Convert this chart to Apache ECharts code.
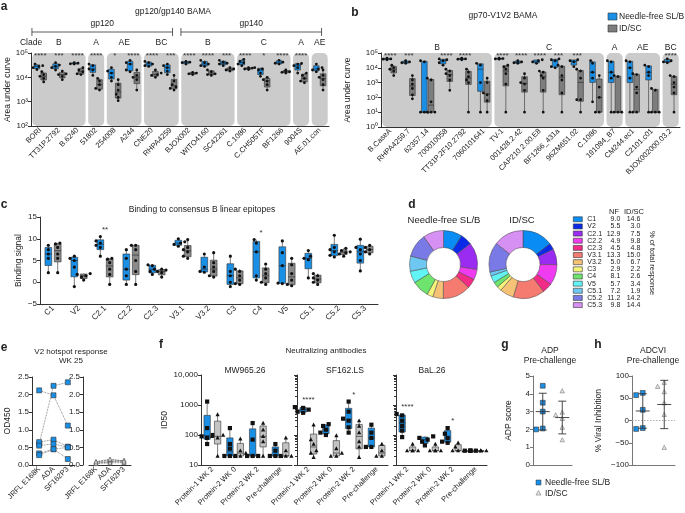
<!DOCTYPE html>
<html>
<head>
<meta charset="utf-8">
<script src="https://cdn.jsdelivr.net/npm/echarts@6/dist/echarts.min.js"></script>
<style>html,body{margin:0;padding:0;background:#fff}#main{width:685px;height:513px}</style>
</head>
<body>
<div id="main"></div>
<script>
// ---------- data ----------
// a: gp120/gp140 BAMA (area under curve)
const aCats = ['BORI', 'TT31P.2792', 'B.6240', '51802', '254008', 'A244', 'CNE20', 'RHPA4259',
  'BJOX002', 'WITO4160', 'SC42261', 'C.1086', 'C.CH505TF', 'BF1266', '9004S', 'AE.01.con'];
const aNF = [[35000, 30000, 28000, 25000, 21000], [40000, 32000, 28000, 25000, 20000], [40000, 38000, 36000, 35000],
  [35000, 30000, 22000, 20000, 12000], [25000, 18000, 15000, 10000, 7000], [50000, 40000, 35000, 20000, 17000],
  [45000, 40000, 35000, 30000, 28000], [35000, 30000, 25000, 18000, 13000], [45000, 42000, 40000, 35000],
  [50000, 40000, 35000, 30000, 28000], [50000, 42000, 38000, 35000, 30000], [55000, 45000, 40000, 35000, 30000],
  [25000, 22000, 20000, 15000, 11000], [50000, 42000, 38000, 35000], [37000, 35000, 30000, 25000, 15000],
  [35000, 25000, 22000, 20000, 17000]];
const aID = [[17000, 13000, 11000, 9000, 6500], [18000, 14000, 13000, 11000, 8000], [25000, 20000, 17000, 14000, 13000],
  [9000, 7000, 5000, 3500, 3000], [8000, 5000, 3000, 2000, 1500, 1100], [20000, 12000, 10000, 8000, 3000],
  [20000, 15000, 13000, 12000, 10000], [12000, 7000, 5000, 4000, 3500, 3000], [16000, 15000, 14000, 13000],
  [20000, 17000, 14000, 13000, 12000], [25000, 22000, 20000, 18000], [25000, 24000, 22000, 21000],
  [10000, 8000, 7000, 5000, 3000], [20000, 18000, 17000, 16000, 15000], [15000, 12000, 9000, 7000, 6000],
  [20000, 12000, 10000, 8000, 5000, 3000]];
const aStars = ['****', '***', '****', '****', '*', '****', '****', '***', '****', '****', '***', '****', '*', '****', '****', ''];
const aCladeNames = ['B', 'A', 'AE', 'BC', 'B', 'C', 'A', 'AE'];
const aCladeSpans = [[0, 2], [3, 3], [4, 5], [6, 7], [8, 10], [11, 13], [14, 14], [15, 15]];
const aProtNames = ['gp120', 'gp140'];
const aProtSpans = [[0, 7], [8, 15]];

// b: gp70-V1V2 BAMA
const bCats = ['B.CaseA', 'RHPA4259.7', '62357.14', '700010058', 'TT31P.2F10.2792', '7060101641', 'TV-1',
  '001428.2.42', 'CAP210.2.00.E8', 'BF1266_431a', '96ZM651.02', 'C.1086', '191084_B7', 'CM244.ec1',
  'C2101.c01', 'BJOX002000.03.2'];
const bNF = [[45000, 40000, 38000, 35000], [30000, 25000, 22000, 20000], [30000, 25000, 10, 10, 10],
  [40000, 35000, 30000, 22000, 15000], [45000, 40000, 38000, 35000], [20000, 15000, 1000, 10],
  [45000, 42000, 40000, 38000], [30000, 25000, 22000, 20000], [35000, 30000, 25000, 20000],
  [40000, 35000, 30000, 12000, 10000], [35000, 30000, 25000, 12000], [30000, 20000, 5000, 2000, 50],
  [30000, 25000, 5000, 2000, 10], [30000, 25000, 10000, 2000, 10], [15000, 12000, 5000, 3000, 10],
  [40000, 30000, 25000, 22000]];
const bID = [[15000, 10000, 8000, 6000, 3000], [3000, 1500, 800, 400, 150, 80], [2000, 1500, 50, 10, 10, 10],
  [8000, 6000, 4000, 3000, 1500, 300], [8000, 5000, 2500, 1500, 1000, 10], [2000, 1000, 200, 150, 60, 10],
  [15000, 12000, 8000, 4000, 800, 10], [4000, 2000, 1000, 800, 300, 10], [6000, 5000, 3000, 2000, 300, 10],
  [15000, 12000, 3000, 1500, 200, 10], [8000, 6000, 2000, 70, 70, 10], [3000, 500, 100, 10, 10],
  [3000, 2500, 10, 10, 10], [4000, 3500, 500, 200, 10, 10], [400, 300, 10, 10, 10],
  [3000, 2500, 1000, 500, 200, 10]];
const bStars = ['****', '***', '', '****', '****', '', '****', '****', '****', '***', '***', '', '', '', '', '****'];
const bCladeNames = ['B', 'C', 'A', 'AE', 'BC'];
const bCladeSpans = [[0, 5], [6, 11], [12, 12], [13, 14], [15, 15]];

// c: binding to consensus B linear epitopes
const cCats = ['C1', 'V2', 'C2.1', 'C2.2', 'C2.3', 'V3.1', 'V3.2', 'C3', 'C4', 'V5', 'C5.1', 'C5.2', 'C5.3'];
const cNF = [[8.5, 7.5, 6.5, 5.5, 2.2], [6, 5.5, 5, 3.5, -1], [10.5, 9.5, 9, 8.5, 8, 6], [7.5, 5.5, 3, 1.5, -0.5],
  [4, 3.8, 3, 2.5, 1.8], [10, 9.3, 9, 8.7, 8.3], [6.5, 3.5, 2.5, 2.3], [6, 2.5, 1.5, 0, -1],
  [9.8, 9, 7, 1.5, 0.5], [9.5, 6.8, 3.8, -0.2, -0.3], [7.3, 6, 5.5, 5.2, 1], [10.8, 8, 7.5, 7, 6.2, 5.8],
  [9.9, 8, 7.5, 6.5, 5, 2.6]];
const cID = [[9, 8.8, 8, 6.5, 5.5, 2.2], [2, 1.8, 1.5, 1.2, 0.5], [5.5, 5.3, 4.5, 3, 1.8, -0.5],
  [8.5, 8.5, 7.5, 5, 2.5, -0.5], [3, 2.8, 2.5, 2.2, 1.2], [9.8, 8, 7.5, 7, 6, 5.5], [6.8, 4.5, 3.5, 2.5, 1.5, 1.2],
  [3, 2.5, 1.5, 0.5, -0.3, -0.5], [4.2, 3, 2, 1, 0, -0.5], [5.5, 4, 2, 0.5, -0.5, -0.8],
  [2, 1.5, 1, 0.5, 0, -0.5], [7.8, 7.3, 7, 6.8, 6.5, 6], [8.5, 8, 7.5, 7, 6.5]];
const cStars = ['', '', '**', '', '', '', '', '', '*', '', '', '', ''];

// d: % of total response
const dCats = ['C1', 'V2', 'C2.1', 'C2.2', 'C2.3', 'V3.1', 'V3.2', 'C3', 'C4', 'V5', 'C5.1', 'C5.2', 'C5.3'];
const dNF = [9.0, 5.5, 12.9, 4.9, 4.5, 13.3, 5.0, 2.9, 8.1, 5.7, 7.2, 11.2, 9.8];
const dID = [14.6, 3.0, 7.5, 9.8, 4.8, 15.0, 6.7, 2.2, 2.6, 3.4, 1.9, 14.2, 14.4];
const dColors = ['#0a8cf5', '#0a2ae8', '#9a2cf2', '#f03cf0', '#f22c86', '#f57a70', '#f6c275', '#f5f37a',
  '#6ee46e', '#62f4f4', '#6ec8f2', '#7a7ae6', '#d68ff2'];

// e: V2 hotspot response WK 25 (OD450), one row per animal
const eCats = ['JRFL E168K', 'ADA', 'SF162P3'];
const eNF = [[2.12, 1.98, 1.12], [0.60, 2.25, 2.35], [0.65, 0.72, 0.52], [0.55, 0.60, 0.50], [0.33, 0.45, 0.17], [0.28, 0.45, 0.50]];
const eID = [[0.05, 0.10, 0.08], [0.08, 0.15, 0.12], [0.10, 0.12, 0.10], [0.06, 0.08, 0.14], [0.04, 0.06, 0.07], [0.09, 0.17, 0.11]];

// f: neutralizing antibodies (ID50)
const fCats = ['Protein-1 WK 2', 'Protein-2 WK 0', 'Protein-2 WK 2', 'Pre-challenge'];
const fTitles = ['MW965.26', 'SF162.LS', 'BaL.26'];
const fMW_NF = [[1300, 170, 100, 90, 80, 50], [170, 50, 35, 20, 20, 20], [250, 70, 20, 20, 20], [50, 30, 20, 20, 20]];
const fMW_ID = [[480, 100, 90, 80, 20], [75, 30, 25, 20, 20], [250, 150, 90, 60, 20], [80, 30, 20, 20, 20]];
const fSF_NF = [[850, 800, 700, 600, 550], [230, 200, 150, 120, 100], [1300, 600, 350, 300, 180, 120], [220, 120, 80, 40, 40]];
const fSF_ID = [[220, 70, 50, 30, 25, 18], [95, 35, 25, 20, 20], [300, 200, 120, 60, 40, 18], [50, 30, 20, 20]];
const fBa_NF = [[500, 450, 300, 200, 140, 85], [90, 80, 70, 60, 45], [170, 110, 80, 60, 55], [30, 30, 30, 30, 30]];
const fBa_ID = [[50, 30, 30, 30, 30], [50, 30, 30, 30, 30], [55, 40, 30, 30, 30], [30, 30, 30, 30, 30]];
const fMW_Stars = ['', '', '', ''];
const fSF_Stars = ['****', '', '*', ''];
const fBa_Stars = ['****', '', '*', ''];

// g / h: pre-challenge ADP and ADCVI
const gNF = [4.45, 3.5, 3.0, 2.05, 2.0];
const gID = [4.15, 2.95, 2.8, 2.6, 2.1, 1.4];
const hNF = [62, 57, 24, -17, -19];
const hID = [85, 76, 64, 39, 13, -61];

// ---------- helpers ----------
const FONT = '"Liberation Sans", Arial, Helvetica, sans-serif';
const BLUE = '#1a8fe6';
const AX = '#333';
const SUP = ['\u2070', '\u00b9', '\u00b2', '\u00b3', '\u2074', '\u2075'];

let merge = (a, b) => {
  const out = Object.assign({}, a);
  for (const k in b) {
    if (b[k] && typeof b[k] === 'object' && !Array.isArray(b[k]) && a[k] && typeof a[k] === 'object') {
      out[k] = merge(a[k], b[k]);
    } else {
      out[k] = b[k];
    }
  }
  return out;
};

// quartiles, (n+1) method
let quant = (s, p) => {
  let pos = (s.length + 1) * p - 1;
  pos = Math.max(0, Math.min(s.length - 1, pos));
  const lo = Math.floor(pos), hi = Math.ceil(pos);
  return s[lo] + (s[hi] - s[lo]) * (pos - lo);
};
let mean = a => a.reduce((s, v) => s + v, 0) / a.length;
let stdev = a => {
  const m = mean(a);
  return Math.sqrt(a.reduce((s, v) => s + (v - m) * (v - m), 0) / (a.length - 1));
};

// small beeswarm: x offsets so markers do not overlap
let swarm = (ys, d) => {
  const placed = [];
  return ys.map(y => {
    for (const k of [0, -1, 1, -2, 2, -3, 3]) {
      const x = k * d * 0.6;
      if (placed.every(p => Math.hypot(p[0] - x, p[1] - y) >= d)) {
        placed.push([x, y]);
        return x;
      }
    }
    placed.push([0, y]);
    return 0;
  });
};

let marker = (kind, x, y, r, fill, stroke) => {
  if (kind === 'rect') {
    return {type: 'rect', shape: {x: x - r, y: y - r, width: 2 * r, height: 2 * r},
      style: {fill: fill, stroke: stroke, lineWidth: stroke ? 0.6 : 0}};
  }
  if (kind === 'tri') {
    return {type: 'polygon', shape: {points: [[x, y - r * 1.1], [x + r, y + r * 0.8], [x - r, y + r * 0.8]]},
      style: {fill: fill, stroke: stroke, lineWidth: stroke ? 0.6 : 0}};
  }
  return {type: 'circle', shape: {cx: x, cy: y, r: r}, style: {fill: fill}};
};

let txt = (x, y, text, o) => {
  o = o || {};
  return {
    type: 'text', x: x, y: y, rotation: o.rot || 0, silent: true, z: 10,
    style: {
      text: text, fill: o.color || '#222', fontSize: o.size || 8.5, fontFamily: FONT,
      fontWeight: o.bold ? 'bold' : 'normal',
      textAlign: o.align || 'center', align: o.align || 'center',
      textVerticalAlign: o.va || 'middle', verticalAlign: o.va || 'middle'
    }
  };
};

// box + whisker (min..max) + jittered points, one item per category and group
let boxSeries = (ax, cats, nf, id, st) => {
  const items = [];
  cats.forEach((c, i) => {
    [nf[i], id[i]].forEach((pts, g) => {
      if (!pts || !pts.length) return;
      items.push({cat: i, grp: g, pts: pts.slice().sort((p, q) => p - q)});
    });
  });
  return {
    type: 'custom', xAxisIndex: ax, yAxisIndex: ax, z: 3, silent: true,
    data: items.map(it => [it.cat, quant(it.pts, 0.5)]),
    encode: {x: 0, y: 1},
    renderItem: (params, api) => {
      const it = items[params.dataIndex];
      const bw = api.size([1, 0])[0];
      const cx = api.coord([it.cat, it.pts[0]])[0] + (it.grp ? 1 : -1) * bw * st.off;
      const w = bw * st.w;
      const Y = v => api.coord([it.cat, v])[1];
      const s = it.pts, n = s.length;
      const q1 = quant(s, 0.25), md = quant(s, 0.5), q3 = quant(s, 0.75);
      const kids = [
        {type: 'line', shape: {x1: cx, y1: Y(s[0]), x2: cx, y2: Y(s[n - 1])}, style: {stroke: '#444', lineWidth: 0.7}},
        {type: 'rect', shape: {x: cx - w / 2, y: Y(q3), width: w, height: Math.max(Y(q1) - Y(q3), 0.8)},
          style: {fill: it.grp ? st.gray : BLUE, stroke: '#333', lineWidth: 0.6}},
        {type: 'line', shape: {x1: cx - w / 2, y1: Y(md), x2: cx + w / 2, y2: Y(md)}, style: {stroke: '#222', lineWidth: 0.6}}
      ];
      const ys = s.map(Y);
      const xs = swarm(ys, st.r * 2 + 0.4);
      ys.forEach((y, k) => {
        kids.push(marker(it.grp ? st.mk[1] : st.mk[0], cx + xs[k], y, st.r, '#111'));
      });
      return {type: 'group', children: kids};
    }
  };
};

// significance stars: at the top of the plot, or just above the highest point
let starSeries = (ax, stars, topVal, nf, id) => {
  const items = stars.map((s, i) => ({cat: i, s: s})).filter(o => o.s);
  return {
    type: 'custom', xAxisIndex: ax, yAxisIndex: ax, z: 4, silent: true,
    data: items.map(o => [o.cat, topVal != null ? topVal : Math.max(...nf[o.cat], ...id[o.cat])]),
    encode: {x: 0, y: 1},
    renderItem: (params, api) => {
      const o = items[params.dataIndex];
      const p = api.coord([o.cat, api.value(1)]);
      const y = topVal != null ? params.coordSys.y - 1 : p[1] - 3;
      return {
        type: 'text', x: p[0], y: y,
        style: {text: o.s, fill: '#333', fontSize: 8, fontFamily: FONT,
          textAlign: 'center', align: 'center',
          textVerticalAlign: topVal != null ? 'top' : 'bottom', verticalAlign: topVal != null ? 'top' : 'bottom'}
      };
    }
  };
};

// rounded grey clade backgrounds with the clade name above
let cladeSeries = (ax, spans, names, anchor, lift) => ({
  type: 'custom', xAxisIndex: ax, yAxisIndex: ax, z: 1, silent: true,
  data: spans.map(s => [s[0], anchor]),
  encode: {x: 0, y: 1},
  renderItem: (params, api) => {
    const s = spans[params.dataIndex];
    const bw = api.size([1, 0])[0];
    const cs = params.coordSys;
    const x0 = api.coord([s[0], anchor])[0] - bw / 2 + 1.3;
    const x1 = api.coord([s[1], anchor])[0] + bw / 2 - 1.3;
    return {
      type: 'group', children: [
        {type: 'rect', shape: {x: x0, y: cs.y, width: x1 - x0, height: cs.height, r: 5}, style: {fill: '#cbcbcb'}},
        {type: 'text', x: (x0 + x1) / 2, y: cs.y - lift,
          style: {text: names[params.dataIndex], fill: '#222', fontSize: 8.5, fontFamily: FONT,
            textAlign: 'center', align: 'center', textVerticalAlign: 'middle', verticalAlign: 'middle'}}
      ]
    };
  }
});

// gp120 / gp140 brackets
let bracketSeries = (ax, spans, names, anchor) => ({
  type: 'custom', xAxisIndex: ax, yAxisIndex: ax, z: 1, silent: true,
  data: spans.map(s => [s[0], anchor]),
  encode: {x: 0, y: 1},
  renderItem: (params, api) => {
    const s = spans[params.dataIndex];
    const bw = api.size([1, 0])[0];
    const y = params.coordSys.y - 21;
    const x0 = api.coord([s[0], anchor])[0] - bw * 0.45;
    const x1 = api.coord([s[1], anchor])[0] + bw * 0.1;
    const ln = {stroke: '#333', lineWidth: 0.8};
    return {
      type: 'group', children: [
        {type: 'line', shape: {x1: x0, y1: y, x2: x1, y2: y}, style: ln},
        {type: 'line', shape: {x1: x0, y1: y - 4, x2: x0, y2: y + 4}, style: ln},
        {type: 'line', shape: {x1: x1, y1: y - 4, x2: x1, y2: y + 4}, style: ln},
        {type: 'text', x: (x0 + x1) / 2, y: y - 8,
          style: {text: names[params.dataIndex], fill: '#222', fontSize: 8.5, fontFamily: FONT,
            textAlign: 'center', align: 'center', textVerticalAlign: 'middle', verticalAlign: 'middle'}}
      ]
    };
  }
});

// mean +/- SD with individual points
let meanSdSeries = (ax, nf, id) => {
  const groups = [nf, id];
  return {
    type: 'custom', xAxisIndex: ax, yAxisIndex: ax, z: 3, silent: true,
    data: groups.map((g, i) => [i, mean(g)]),
    encode: {x: 0, y: 1},
    renderItem: (params, api) => {
      const i = params.dataIndex, pts = groups[i];
      const m = mean(pts), sd = stdev(pts);
      const cx = api.coord([i, m])[0];
      const Y = v => api.coord([i, v])[1];
      const sorted = pts.slice().sort((a, b) => b - a);
      const ys = sorted.map(Y);
      const xs = swarm(ys, 5.5);
      const kids = ys.map((y, k) => i === 0 ?
        marker('rect', cx + xs[k], y, 2.4, BLUE, '#333') :
        marker('tri', cx + xs[k], y, 2.2, '#e6e6e6', '#777'));
      const ln = {stroke: '#333', lineWidth: 0.9};
      kids.push({type: 'line', shape: {x1: cx, y1: Y(m - sd), x2: cx, y2: Y(m + sd)}, style: ln});
      kids.push({type: 'line', shape: {x1: cx - 4, y1: Y(m - sd), x2: cx + 4, y2: Y(m - sd)}, style: ln});
      kids.push({type: 'line', shape: {x1: cx - 4, y1: Y(m + sd), x2: cx + 4, y2: Y(m + sd)}, style: ln});
      kids.push({type: 'line', shape: {x1: cx - 7, y1: Y(m), x2: cx + 7, y2: Y(m)}, style: ln});
      return {type: 'group', children: kids};
    }
  };
};

// dotted reference line at zero
let zeroSeries = ax => ({
  type: 'custom', xAxisIndex: ax, yAxisIndex: ax, z: 2, silent: true,
  data: [[0, 0]], encode: {x: 0, y: 1},
  renderItem: (params, api) => {
    const cs = params.coordSys;
    const y = api.coord([0, 0])[1];
    return {type: 'line', shape: {x1: cs.x, y1: y, x2: cs.x + cs.width, y2: y},
      style: {stroke: '#999', lineWidth: 0.8, lineDash: [1.5, 1.5]}};
  }
});

let xAx = (grid, cats, o) => merge({
  gridIndex: grid, type: 'category', data: cats,
  axisLine: {onZero: false, lineStyle: {color: AX, width: 1}},
  axisTick: {alignWithLabel: true, length: 3, lineStyle: {color: AX}},
  axisLabel: {rotate: 45, fontSize: 7.5, fontFamily: FONT, color: '#222', margin: 3, interval: 0},
  splitLine: {show: false}
}, o || {});

let yAx = (grid, o) => merge({
  gridIndex: grid, type: 'value',
  axisLine: {show: true, lineStyle: {color: AX, width: 1}},
  axisTick: {show: true, length: 3, lineStyle: {color: AX}},
  axisLabel: {fontSize: 8, fontFamily: FONT, color: '#222', margin: 3},
  splitLine: {show: false},
  nameLocation: 'middle',
  nameTextStyle: {fontFamily: FONT, fontSize: 8.5, color: '#222'}
}, o || {});

let logLabel = v => '10' + SUP[Math.round(Math.log10(v))];

// ---------- layout ----------
const grids = [
  {left: 31, top: 53, width: 298, height: 73},   // a
  {left: 381, top: 53, width: 299, height: 74},  // b
  {left: 28, top: 217, width: 350, height: 87},  // c
  {left: 32, top: 377, width: 43, height: 88},   // e left
  {left: 89, top: 377, width: 42, height: 88},   // e right
  {left: 201, top: 375, width: 91, height: 90},  // f MW965.26
  {left: 297, top: 375, width: 91, height: 90},  // f SF162.LS
  {left: 396, top: 375, width: 91, height: 90},  // f BaL.26
  {left: 533, top: 376, width: 39, height: 89},  // g
  {left: 632, top: 376, width: 43, height: 89}   // h
];

const xAxes = [
  xAx(0, aCats), xAx(1, bCats), xAx(2, cCats, {axisLabel: {fontSize: 8}}),
  xAx(3, eCats), xAx(4, eCats),
  xAx(5, fCats), xAx(6, fCats), xAx(7, fCats),
  xAx(8, ['NF', 'ID'], {axisLabel: {show: false}, axisLine: {lineStyle: {color: '#777'}}, axisTick: {lineStyle: {color: '#777'}}}),
  xAx(9, ['NF', 'ID'], {axisLabel: {show: false}, axisLine: {lineStyle: {color: '#777'}}, axisTick: {lineStyle: {color: '#777'}}})
];

const yAxes = [
  yAx(0, {type: 'log', logBase: 10, min: 100, max: 100000, name: 'Area under curve', nameGap: 13,
    axisLabel: {formatter: logLabel}}),
  yAx(1, {type: 'log', logBase: 10, min: 1, max: 100000, name: 'Area under curve', nameGap: 29,
    axisLabel: {formatter: logLabel}}),
  yAx(2, {min: -5, max: 15, interval: 5, name: 'Binding signal', nameGap: 17,
    axisLabel: {formatter: v => (v < 0 ? '\u2212' + (-v) : String(v))}}),
  yAx(3, {min: 0, max: 2.5, interval: 0.5, name: 'OD450', nameGap: 20, axisLabel: {formatter: v => v.toFixed(1)}}),
  yAx(4, {min: 0, max: 2.5, interval: 0.5, offset: 6, axisLabel: {formatter: v => v.toFixed(1)}}),
  yAx(5, {type: 'log', logBase: 10, min: 10, max: 10000, name: 'ID50', nameGap: 31,
    axisLabel: {formatter: v => (v >= 10000 ? '10,000' : String(Math.round(v)))}}),
  yAx(6, {type: 'log', logBase: 10, min: 10, max: 10000, axisLabel: {show: false},
    minorTick: {show: true, splitNumber: 9, length: 2, lineStyle: {color: AX}}}),
  yAx(7, {type: 'log', logBase: 10, min: 10, max: 10000, axisLabel: {show: false},
    minorTick: {show: true, splitNumber: 9, length: 2, lineStyle: {color: AX}}}),
  yAx(8, {min: 0, max: 5, interval: 1, name: 'ADP score', nameGap: 20,
    axisLine: {lineStyle: {color: '#777'}}, axisTick: {lineStyle: {color: '#777'}}}),
  yAx(9, {min: -100, max: 100, interval: 50, name: '% Viral Inhibition', nameGap: 29,
    axisLine: {lineStyle: {color: '#777'}}, axisTick: {lineStyle: {color: '#777'}},
    axisLabel: {formatter: v => (v < 0 ? '\u2212' + (-v) : String(v))}})
];

const stAB = {off: 0.18, w: 0.3, r: 1.4, gray: '#7d7d7d', mk: ['circle', 'circle']};
const stC = {off: 0.18, w: 0.26, r: 1.6, gray: '#8a8a8a', mk: ['circle', 'circle']};
const stF = {off: 0.23, w: 0.28, r: 2.1, gray: '#c4c4c4', mk: ['rect', 'tri']};

const series = [
  cladeSeries(0, aCladeSpans, aCladeNames, 1000, 10),
  bracketSeries(0, aProtSpans, aProtNames, 1000),
  boxSeries(0, aCats, aNF, aID, stAB),
  starSeries(0, aStars, 100000),
  cladeSeries(1, bCladeSpans, bCladeNames, 1000, 5),
  boxSeries(1, bCats, bNF, bID, stAB),
  starSeries(1, bStars, 100000),
  boxSeries(2, cCats, cNF, cID, stC),
  starSeries(2, cStars, null, cNF, cID),
  boxSeries(5, fCats, fMW_NF, fMW_ID, stF),
  starSeries(5, fMW_Stars, null, fMW_NF, fMW_ID),
  boxSeries(6, fCats, fSF_NF, fSF_ID, stF),
  starSeries(6, fSF_Stars, null, fSF_NF, fSF_ID),
  boxSeries(7, fCats, fBa_NF, fBa_ID, stF),
  starSeries(7, fBa_Stars, null, fBa_NF, fBa_ID),
  zeroSeries(9),
  meanSdSeries(8, gNF, gID),
  meanSdSeries(9, hNF, hID)
];

// donuts
[dNF, dID].forEach((vals, k) => {
  series.push({
    type: 'pie', center: [k === 0 ? 443.5 : 523, 264.5], radius: [17, 34],
    startAngle: 90, clockwise: true, silent: true, label: {show: false}, labelLine: {show: false},
    itemStyle: {borderColor: '#444', borderWidth: 0.5},
    data: dCats.map((c, i) => ({name: c, value: vals[i], itemStyle: {color: dColors[i]}}))
  });
});

// V2 hotspot lines, one per animal
eNF.forEach(v => series.push({
  type: 'line', xAxisIndex: 3, yAxisIndex: 3, data: v, silent: true,
  symbol: 'rect', symbolSize: 5,
  itemStyle: {color: BLUE, borderColor: '#333', borderWidth: 0.6},
  lineStyle: {color: '#666', width: 0.8, type: 'dotted'}
}));
eID.forEach(v => series.push({
  type: 'line', xAxisIndex: 4, yAxisIndex: 4, data: v, silent: true,
  symbol: 'triangle', symbolSize: 4,
  itemStyle: {color: '#ddd', borderColor: '#555', borderWidth: 0.6},
  lineStyle: {color: '#666', width: 0.8, type: 'dotted'}
}));

// ---------- static text ----------
const graphic = [
  txt(4, 7, 'a', {bold: true, size: 12}),
  txt(355, 13, 'b', {bold: true, size: 12}),
  txt(4, 205, 'c', {bold: true, size: 12}),
  txt(412, 205, 'd', {bold: true, size: 12}),
  txt(4, 348, 'e', {bold: true, size: 12}),
  txt(161, 345, 'f', {bold: true, size: 12}),
  txt(505, 345, 'g', {bold: true, size: 12}),
  txt(598, 345, 'h', {bold: true, size: 12}),
  txt(173, 12, 'gp120/gp140 BAMA'),
  txt(31, 43, 'Clade'),
  txt(503, 16, 'gp70-V1V2 BAMA'),
  {type: 'rect', shape: {x: 608, y: 13, width: 9, height: 7}, style: {fill: BLUE, stroke: '#333', lineWidth: 0.6}},
  txt(619, 16.7, 'Needle-free SL/B', {align: 'left'}),
  {type: 'rect', shape: {x: 608, y: 25, width: 9, height: 7}, style: {fill: '#7d7d7d', stroke: '#333', lineWidth: 0.6}},
  txt(619, 28.5, 'ID/SC', {align: 'left'}),
  txt(202, 210, 'Binding to consensus B linear epitopes'),
  txt(444, 220, 'Needle-free SL/B', {size: 9.5}),
  txt(522, 220, 'ID/SC', {size: 9.5}),
  txt(614, 212, 'NF', {size: 7.5}),
  txt(634, 212, 'ID/SC', {size: 7.5}),
  txt(652, 263, '% of total response', {size: 7.5, rot: -Math.PI / 2}),
  txt(71, 352, 'V2 hotspot response', {size: 8}),
  txt(71, 361, 'WK 25', {size: 8}),
  txt(326, 351, 'Neutralizing antibodies', {size: 8}),
  txt(245, 371, fTitles[0]),
  txt(345, 371, fTitles[1]),
  txt(432, 371, fTitles[2]),
  txt(550, 351, 'ADP'),
  txt(550, 361, 'Pre-challenge'),
  txt(653, 351, 'ADCVI'),
  txt(653, 361, 'Pre-challenge'),
  {type: 'rect', shape: {x: 536, y: 480, width: 5, height: 5}, style: {fill: BLUE, stroke: '#333', lineWidth: 0.5}},
  txt(545, 482.5, 'Needle-free SL/B', {align: 'left'}),
  {type: 'polygon', shape: {points: [[538.5, 490.5], [541, 495], [536, 495]]}, style: {fill: '#e6e6e6', stroke: '#777', lineWidth: 0.6}},
  txt(545, 493.5, 'ID/SC', {align: 'left'})
];

const chart = echarts.init(document.getElementById('main'), null, {renderer: 'canvas'});
chart.setOption({
  animation: false,
  backgroundColor: '#fff',
  textStyle: {fontFamily: FONT},
  grid: grids,
  xAxis: xAxes,
  yAxis: yAxes,
  legend: {
    data: dCats, orient: 'vertical', left: 573, top: 215.7, padding: 0,
    itemWidth: 9, itemHeight: 5, itemGap: 0, icon: 'rect', selectedMode: false,
    itemStyle: {borderColor: '#333', borderWidth: 0.6},
    formatter: name => {
      const i = dCats.indexOf(name);
      return '{n|' + name + '}{a|' + dNF[i].toFixed(1) + '}{b|' + dID[i].toFixed(1) + '}';
    },
    textStyle: {
      fontFamily: FONT, fontSize: 7, color: '#222', lineHeight: 7.15,
      rich: {
        n: {width: 18, fontFamily: FONT, fontSize: 7, color: '#222', lineHeight: 7.15},
        a: {width: 15, align: 'right', fontFamily: FONT, fontSize: 7, color: '#222', lineHeight: 7.15},
        b: {width: 20, align: 'right', fontFamily: FONT, fontSize: 7, color: '#222', lineHeight: 7.15}
      }
    }
  },
  graphic: graphic,
  series: series
});
</script>
</body>
</html>
